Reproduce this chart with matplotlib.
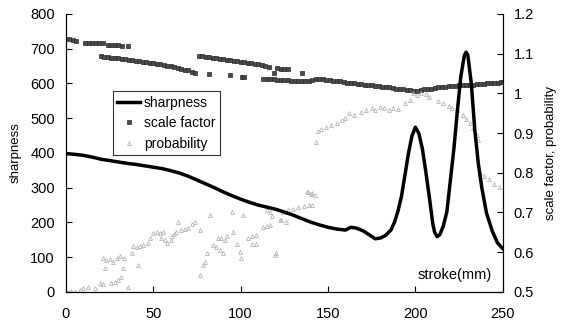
import matplotlib
matplotlib.use('Agg')
import matplotlib.pyplot as plt

plt.rcParams['font.family'] = ['Liberation Sans', 'DejaVu Sans']

# sharpness (left axis)
sharp_x = [0, 5, 10, 15, 20, 25, 30, 35, 40, 45, 50, 55, 60, 65, 70, 75, 80, 85, 90, 95,
           100, 105, 110, 115, 120, 125, 130, 135, 140, 145, 150, 155, 160, 163, 166, 170, 174, 177,
           180, 183, 186, 188, 190, 192, 194, 196, 198, 200, 202, 204, 206, 208, 210, 211, 212.4,
           214, 216, 218, 220, 222, 224, 226, 228, 229, 230, 232, 234, 236, 238, 240.7, 244, 247, 250]
sharp_y = [398, 396, 393, 388, 382, 378, 374, 370, 367, 363, 359, 355, 349, 342, 333, 322, 311, 300, 288, 277,
           267, 258, 250, 244, 238, 230, 221, 211, 201, 193, 186, 181, 178, 186, 184, 176, 163, 153,
           155, 163, 178, 200, 232, 274, 335, 398, 448, 474, 456, 412, 345, 272, 195, 172, 159,
           165, 190, 230, 320, 410, 520, 620, 680, 690, 682, 600, 466, 370, 300, 227, 175, 141, 125]

# scale factor (right axis)
scale_x = [2, 4, 6, 11, 13, 15, 17, 19, 21, 24, 26, 28, 30, 32, 35.5,
           20, 22, 24, 26, 28, 30, 32, 34, 36, 38, 40, 42, 44, 46, 48, 50, 52, 54, 56, 58,
           60, 62, 64, 66, 68, 70, 72, 74,
           82, 94, 101, 102,
           76, 78, 80, 82, 84, 86, 88, 90, 92, 94, 96, 98, 100, 102, 104, 106, 108, 110, 112, 114, 116,
           119, 121, 123, 125, 127, 135,
           113, 115, 117, 119, 121, 123, 125, 127, 129, 131, 133, 135, 137, 139, 141, 143,
           145, 147, 149, 151, 153, 155, 157, 159, 161, 163, 165, 167, 169, 171, 173, 175, 177, 179,
           181, 183, 185, 187, 189, 191, 193, 195, 197, 199, 201, 203, 205, 207, 209, 211, 213, 215,
           217, 219, 221, 223, 225, 227, 229, 231, 233, 235, 237, 239, 241, 243, 245, 247, 249, 250]
scale_y = [1.136, 1.135, 1.133, 1.127, 1.127, 1.127, 1.126, 1.126, 1.126, 1.123, 1.122, 1.121, 1.122, 1.120, 1.119,
           1.093, 1.092, 1.091, 1.090, 1.089, 1.088, 1.087, 1.086, 1.084, 1.083, 1.082, 1.081, 1.079, 1.078,
           1.077, 1.076, 1.074, 1.073, 1.071, 1.069, 1.068, 1.066, 1.064, 1.062, 1.060, 1.058, 1.055, 1.052,
           1.048, 1.045, 1.041, 1.041,
           1.094, 1.093, 1.092, 1.091, 1.090, 1.089, 1.087, 1.086, 1.085, 1.083, 1.082, 1.081, 1.080, 1.079,
           1.077, 1.076, 1.074, 1.073, 1.071, 1.069, 1.067,
           1.051, 1.064, 1.061, 1.061, 1.061, 1.052,
           1.036, 1.036, 1.035, 1.035, 1.034, 1.034, 1.033, 1.033, 1.032, 1.032, 1.031, 1.031, 1.030, 1.031,
           1.034, 1.037,
           1.036, 1.035, 1.034, 1.033, 1.032, 1.031, 1.030, 1.029, 1.027, 1.026, 1.025, 1.024, 1.023, 1.022,
           1.021, 1.020, 1.019, 1.018, 1.017, 1.016, 1.015, 1.014, 1.012, 1.011, 1.010, 1.009, 1.008, 1.007,
           1.007, 1.008, 1.010, 1.011, 1.012, 1.013, 1.015, 1.016, 1.017, 1.018, 1.018, 1.019, 1.020, 1.021,
           1.022, 1.021, 1.022, 1.023, 1.024, 1.024, 1.025, 1.026, 1.026, 1.027, 1.028, 1.028]

# probability (right axis)
prob_x = [1, 3, 5, 8, 10, 12.8, 16.6, 19.5, 21.4, 26, 28, 30, 31.8, 35.7,
          21.4, 23, 25, 22.3, 27, 29, 31, 33, 32.8, 37.6, 41.4, 38.5, 40.5, 42.5, 44,
          47, 48, 50, 52, 54, 55.7, 54.5, 57, 60, 57.6, 60.5, 62, 63, 64, 66, 68, 70, 72, 74,
          76.7, 76.7, 78.5, 79.5, 80.5, 82.4, 84, 86, 88, 90, 87, 89, 91, 92,
          94.8, 95.7, 97.7, 99.6, 100.5, 101.4, 104, 106.5, 109, 106.5, 109,
          113, 115, 117, 115, 117, 118, 120.5, 122.5, 119.6, 123, 126,
          124, 127, 130, 133, 136, 139, 141, 137.7, 140.6, 138.5, 140.5, 142.4, 143.4,
          144, 146, 149, 152, 155, 158, 160, 162, 165, 169,
          172, 175, 177, 180, 182, 185, 187, 190, 194, 197,
          198.7, 201, 203, 206, 208, 213,
          215.8, 219, 221, 224, 227, 229, 231, 233, 235, 235.6,
          237, 239, 242, 245, 248]
prob_y = [0.500, 0.502, 0.500, 0.505, 0.510, 0.513, 0.509, 0.522, 0.520, 0.522, 0.526, 0.530, 0.538, 0.513,
          0.585, 0.580, 0.582, 0.560, 0.576, 0.585, 0.590, 0.586, 0.560, 0.597, 0.568, 0.616, 0.614, 0.615, 0.617,
          0.623, 0.635, 0.648, 0.651, 0.648, 0.652, 0.635, 0.632, 0.630, 0.623, 0.640, 0.645, 0.650, 0.677, 0.656,
          0.658, 0.660, 0.670, 0.677,
          0.656, 0.543, 0.568, 0.576, 0.597, 0.694, 0.618, 0.612, 0.605, 0.597, 0.635, 0.636, 0.632, 0.640,
          0.702, 0.652, 0.620, 0.600, 0.585, 0.694, 0.635, 0.640, 0.643, 0.620, 0.621,
          0.664, 0.666, 0.668, 0.707, 0.702, 0.690, 0.597, 0.680, 0.593, 0.680, 0.677,
          0.702, 0.707, 0.710, 0.713, 0.716, 0.720, 0.718, 0.752, 0.748, 0.752, 0.746, 0.744, 0.878,
          0.904, 0.910, 0.915, 0.920, 0.926, 0.932, 0.937, 0.950, 0.945, 0.954,
          0.958, 0.962, 0.958, 0.966, 0.962, 0.958, 0.962, 0.960, 0.975, 0.983,
          1.000, 0.996, 1.000, 0.998, 0.990, 0.980,
          0.975, 0.968, 0.962, 0.958, 0.945, 0.935, 0.925, 0.912, 0.895, 0.883,
          0.800, 0.792, 0.785, 0.772, 0.765]

fig = plt.figure(figsize=(5.63, 3.24), dpi=100)
ax1 = fig.add_axes([0.117, 0.099, 0.776, 0.858])
ax2 = ax1.twinx()
ax1.set_zorder(ax2.get_zorder() + 1)
ax1.patch.set_visible(False)

p2, = ax2.plot(scale_x, scale_y, linestyle='none', marker='s', ms=3.3,
               mfc='#4a4a4a', mec='#2a2a2a', mew=0.5)
p3, = ax2.plot(prob_x, prob_y, linestyle='none', marker='^', ms=2.8,
               mfc='none', mec='#b4b4b4', mew=0.6)
p1, = ax1.plot(sharp_x, sharp_y, color='black', lw=2.5)

ax1.set_xlim(0, 250)
ax1.set_ylim(0, 800)
ax2.set_ylim(0.5, 1.2)
ax1.set_xticks(range(0, 251, 50))
ax1.set_yticks(range(0, 801, 100))
ax2.set_yticks([0.5, 0.6, 0.7, 0.8, 0.9, 1.0, 1.1, 1.2])
ax2.set_yticklabels(['0.5', '0.6', '0.7', '0.8', '0.9', '1', '1.1', '1.2'])

for a in (ax1, ax2):
    a.spines['top'].set_visible(False)
    for s in a.spines.values():
        s.set_linewidth(0.8)
    a.tick_params(direction='in', length=4, width=0.8, labelsize=10.5, pad=8)
ax1.tick_params(axis='x', pad=11)

ax1.set_ylabel('sharpness', fontsize=9.5, labelpad=6)
ax2.set_ylabel('scale factor, probability', fontsize=9.5, labelpad=8)

ax1.text(244, 49, 'stroke(mm)', fontsize=10.5, ha='right', va='center')

leg = ax1.legend([p1, p2, p3], ['sharpness', 'scale factor', 'probability'],
                 loc='upper left', bbox_to_anchor=(0.107, 0.722), fontsize=10,
                 frameon=True, fancybox=False, handlelength=1.6, handletextpad=0.3,
                 borderpad=0.35, labelspacing=0.45, borderaxespad=0)
leg.get_frame().set_edgecolor('black')
leg.get_frame().set_linewidth(0.8)

fig.savefig('out.png', dpi=100)
